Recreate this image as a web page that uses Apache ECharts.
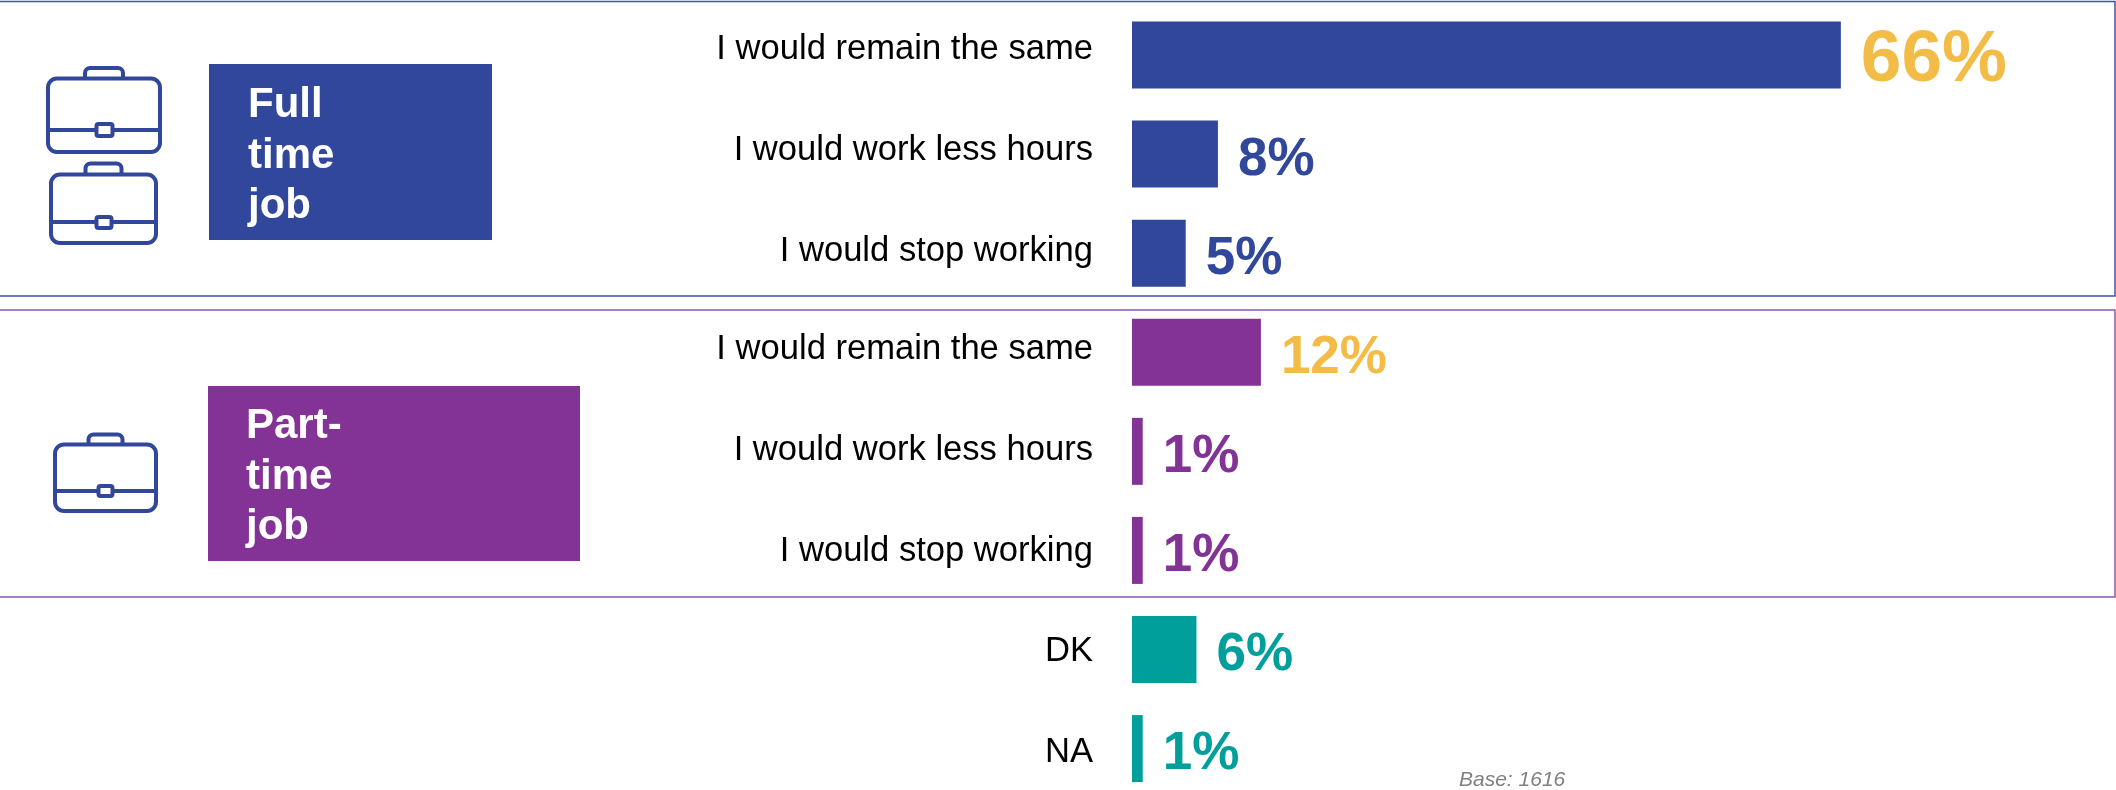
<!DOCTYPE html>
<html>
<head>
<meta charset="utf-8">
<style>html,body{margin:0;padding:0;background:#fff}#c{width:2116px;height:790px}</style>
<script src="https://cdn.jsdelivr.net/npm/echarts@6/dist/echarts.min.js"></script>
</head>
<body>
<div id="c"></div>
<script>
const categories = ['I would remain the same','I would work less hours','I would stop working','I would remain the same','I would work less hours','I would stop working','DK','NA'];
const values = [66,8,5,12,1,1,6,1];
const BLUE='#30479B', PURPLE='#833296', TEAL='#009F9B', YELLOW='#F2BC47';
const barColors = [BLUE,BLUE,BLUE,PURPLE,PURPLE,PURPLE,TEAL,TEAL];
const labelColors = [YELLOW,BLUE,BLUE,YELLOW,PURPLE,PURPLE,TEAL,TEAL];
const labelSizes = [73,53,53,53,53,53,53,53];
const catLift = [6,3.5,1.5,2.5,0.5,-1.5,-1.5,-3.5];   // how far each category label sits above its bar centre
const fullTimeLines = ['Full','time','job'];
const partTimeLines = ['Part-','time','job'];
const baseNote = 'Base: 1616';
const FONT = '"Liberation Sans", Arial, sans-serif';
const CAT_SIZE = 34.6;

const rich = {};
catLift.forEach((v,i)=>{
  rich['k'+i] = {fontFamily:FONT,fontSize:CAT_SIZE,color:'#000',
    padding: v>=0 ? [0,0,2*v,0] : [-2*v,0,0,0]};
});

function frame(y0,y1,col){
  return {type:'rect',silent:true,shape:{x:-3,y:y0,width:3+2115,height:y1-y0},
    style:{fill:'none',stroke:col,lineWidth:1.5}};
}
function box(x,y,w,h,col){ return {type:'rect',silent:true,shape:{x,y,width:w,height:h},style:{fill:col}}; }
function txt(t,x,baseline,size,col,weight,italic){
  return {type:'text',silent:true,z:6,x,y:baseline-size*0.79,style:{text:t,fill:col,font:(italic?'italic ':'')+(weight?'bold ':'')+size+'px '+FONT}};
}
function briefcase(b){
  const s={fill:'none',stroke:BLUE,lineWidth:4};
  return [
    {type:'rect',silent:true,shape:{x:b.hx0,y:b.hy,width:b.hx1-b.hx0,height:b.y0-b.hy+2,r:[5,5,0,0]},style:s},
    {type:'rect',silent:true,z:3,shape:{x:b.x0,y:b.y0,width:b.x1-b.x0,height:b.y1-b.y0,r:9},style:{fill:'#fff',stroke:BLUE,lineWidth:4}},
    {type:'line',silent:true,z:4,shape:{x1:b.x0,y1:b.sy,x2:b.x1,y2:b.sy},style:{stroke:BLUE,lineWidth:4}},
    {type:'rect',silent:true,z:5,shape:{x:b.bx0,y:b.by0,width:b.bx1-b.bx0,height:b.by1-b.by0,r:2},style:{fill:'#fff',stroke:BLUE,lineWidth:4}}
  ];
}
const graphics = [
  frame(1.5,296,'#3D52A8'),
  frame(310,597,'#8A5AA8'),
  box(209,64,283,176,BLUE),
  box(208,386,372,175,PURPLE),
  ...briefcase({x0:48,x1:160,y0:78.5,y1:152,hx0:85,hx1:123,hy:68,sy:130,bx0:96.5,bx1:112.5,by0:124,by1:136}),
  ...briefcase({x0:51,x1:156,y0:174.5,y1:243,hx0:85.5,hx1:121.5,hy:163.5,sy:222,bx0:96.5,bx1:111.5,by0:217,by1:228}),
  ...briefcase({x0:55,x1:156,y0:444.5,y1:511,hx0:88.5,hx1:122.5,hy:434.5,sy:491,bx0:98.5,bx1:112.5,by0:486,by1:496}),
  ...fullTimeLines.map((t,i)=>txt(t,248,118+i*50.5,42,'#fff',true)),
  ...partTimeLines.map((t,i)=>txt(t,246,439+i*50.5,42,'#fff',true)),
  txt(baseNote,1459,786,21,'#808080',false,true)
];

const chart = echarts.init(document.getElementById('c'),null,{renderer:'canvas'});
chart.setOption({
  animation:false,
  backgroundColor:'#fff',
  graphic:{elements:graphics},
  grid:{left:1132,top:5.5,width:966.6,height:792.6,containLabel:false,outerBoundsMode:'none'},
  xAxis:{type:'value',min:0,max:90,show:false},
  yAxis:{type:'category',inverse:true,data:categories,
    axisLine:{show:false},axisTick:{show:false},
    axisLabel:{interval:0,margin:39,align:'right',verticalAlign:'middle',fontFamily:FONT,fontSize:CAT_SIZE,color:'#000',
      formatter:(v,i)=>'{k'+i+'|'+v+'}',rich}},
  series:[{type:'bar',barWidth:67,silent:true,
    data:values.map((v,i)=>({value:v,itemStyle:{color:barColors[i]},
      label:{color:labelColors[i],fontSize:labelSizes[i]}})),
    label:{show:true,position:'right',distance:20,offset:[0,6],fontFamily:FONT,fontWeight:'bold',formatter:'{c}%'}
  }]
});
</script>
</body>
</html>
